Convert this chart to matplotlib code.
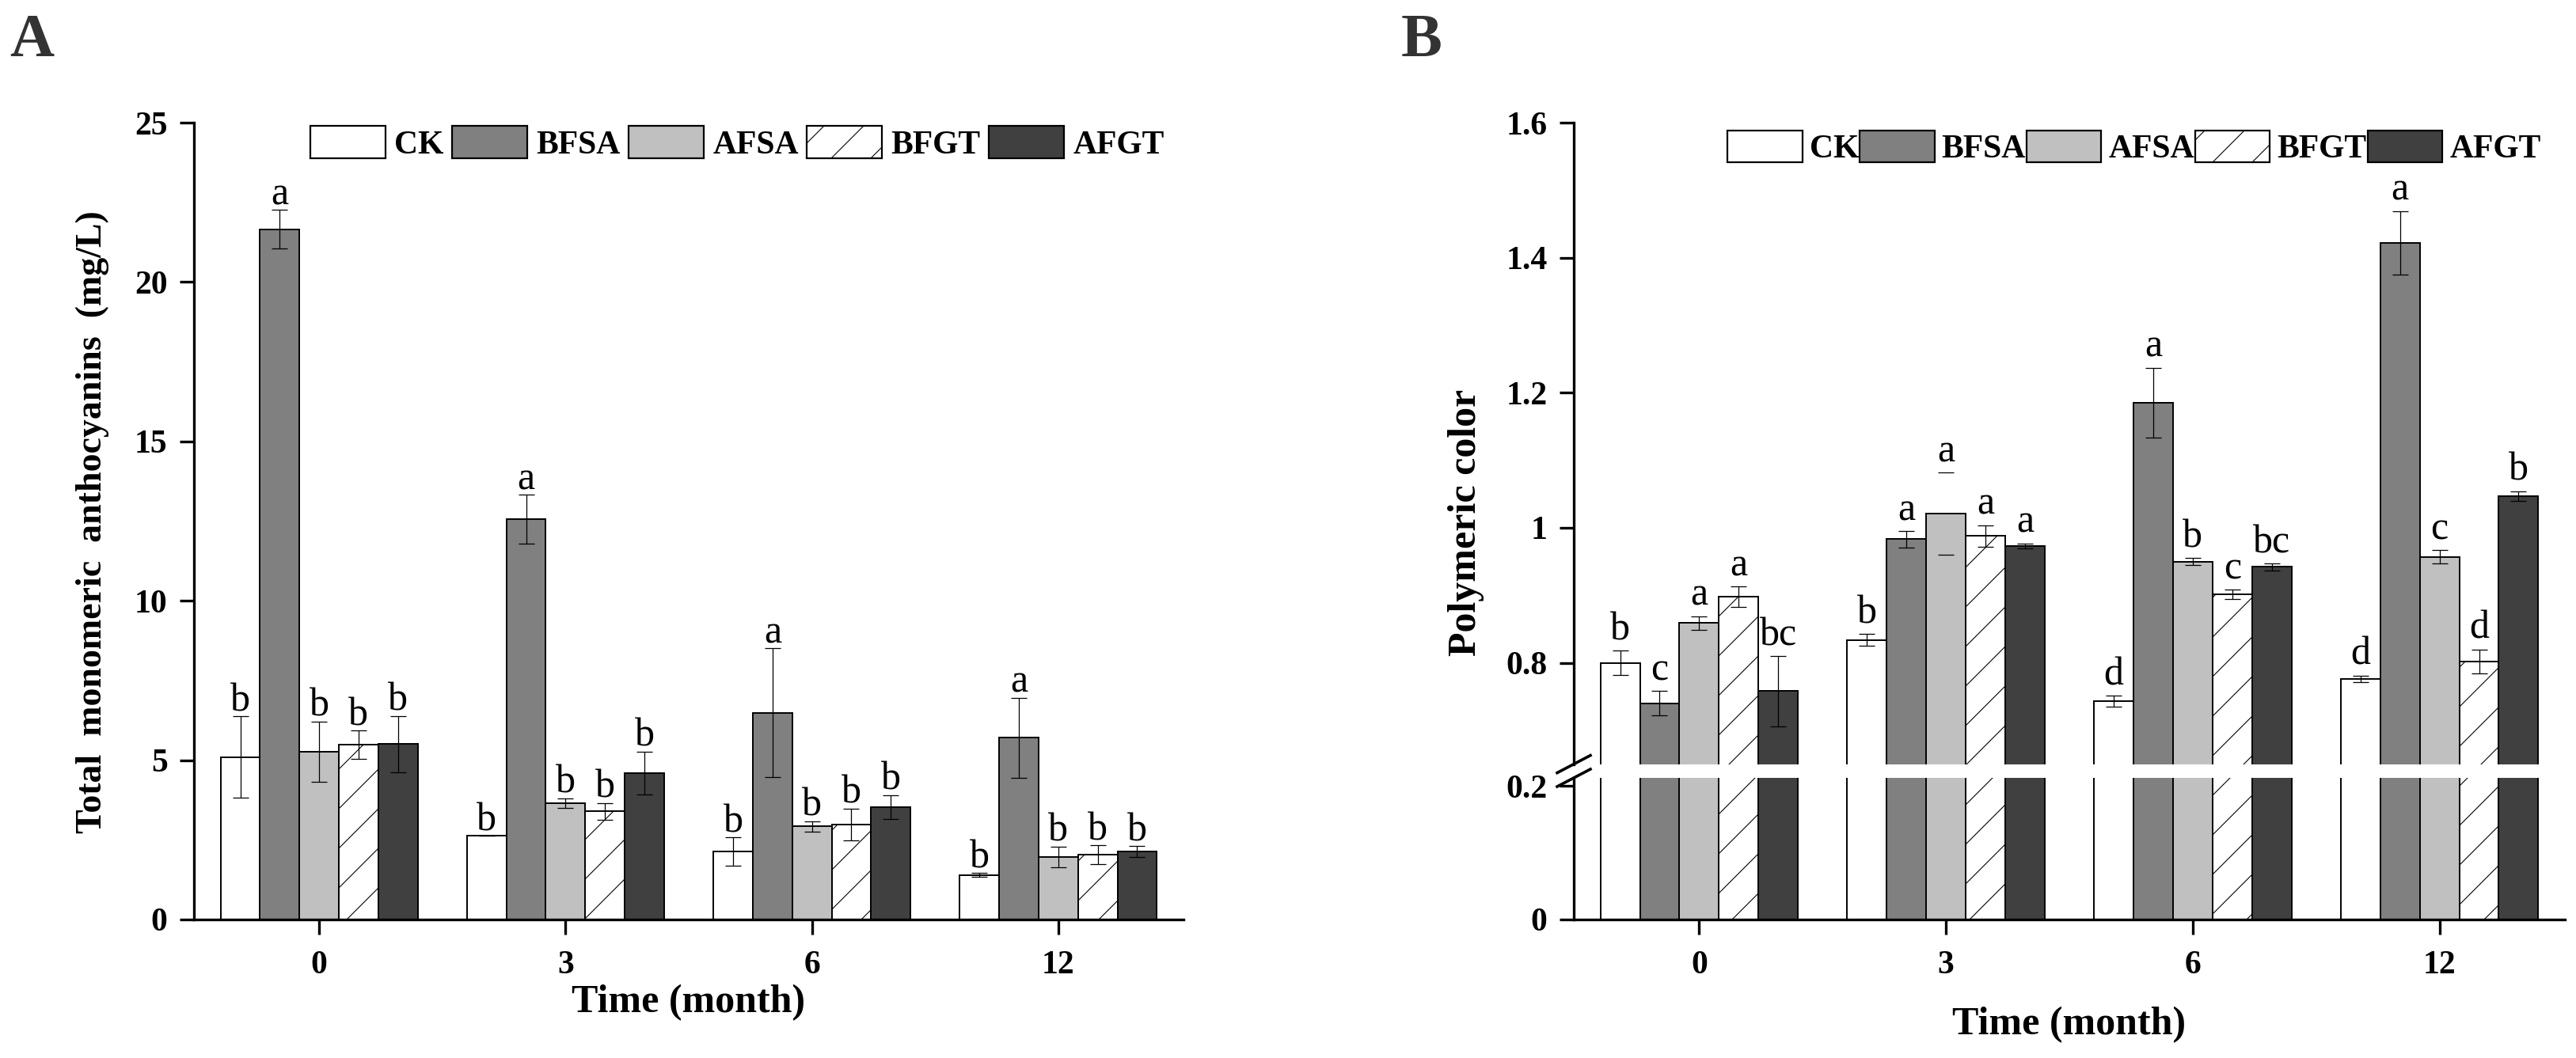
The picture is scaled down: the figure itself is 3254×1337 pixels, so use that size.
import numpy as np
import matplotlib
matplotlib.use('Agg')
import matplotlib.pyplot as plt
from matplotlib.patches import Patch
from matplotlib.backend_bases import GraphicsContextBase

# ---------------- data ----------------
months = ['0', '3', '6', '12']
treatments = ['CK', 'BFSA', 'AFSA', 'BFGT', 'AFGT']

# Panel A: total monomeric anthocyanins (mg/L)
a_ck = [5.10, 2.63, 2.13, 1.40]
a_bfsa = [21.66, 12.56, 6.49, 5.70]
a_afsa = [5.26, 3.65, 2.92, 1.96]
a_bfgt = [5.49, 3.40, 2.98, 2.04]
a_afgt = [5.51, 4.60, 3.53, 2.13]

a_ck_err = [1.27, 0.00, 0.44, 0.06]
a_bfsa_err = [0.60, 0.76, 2.02, 1.26]
a_afsa_err = [0.95, 0.16, 0.16, 0.33]
a_bfgt_err = [0.44, 0.26, 0.50, 0.29]
a_afgt_err = [0.88, 0.67, 0.38, 0.17]

a_ck_let = ['b', 'b', 'b', 'b']
a_bfsa_let = ['a', 'a', 'a', 'a']
a_afsa_let = ['b', 'b', 'b', 'b']
a_bfgt_let = ['b', 'b', 'b', 'b']
a_afgt_let = ['b', 'b', 'b', 'b']

# Panel B: polymeric color
b_ck = [0.800, 0.834, 0.743, 0.776]
b_bfsa = [0.740, 0.983, 1.185, 1.422]
b_afsa = [0.859, 1.021, 0.950, 0.957]
b_bfgt = [0.898, 0.988, 0.901, 0.802]
b_afgt = [0.758, 0.973, 0.942, 1.047]

b_ck_err = [0.018, 0.009, 0.008, 0.005]
b_bfsa_err = [0.018, 0.012, 0.052, 0.047]
b_afsa_err = [0.010, 0.061, 0.005, 0.010]
b_bfgt_err = [0.015, 0.016, 0.007, 0.018]
b_afgt_err = [0.052, 0.004, 0.005, 0.007]

b_ck_let = ['b', 'b', 'd', 'd']
b_bfsa_let = ['c', 'a', 'a', 'a']
b_afsa_let = ['a', 'a', 'b', 'c']
b_bfgt_let = ['a', 'a', 'c', 'd']
b_afgt_let = ['bc', 'a', 'bc', 'b']

a_yticks = [0, 5, 10, 15, 20, 25]
b_upper_ticks = [0.8, 1.0, 1.2, 1.4, 1.6]
b_upper_ticklabels = ['0.8', '1', '1.2', '1.4', '1.6']
b_lower_ticks = [0, 0.2]
b_lower_ticklabels = ['0', '0.2']

# ---------------- style ----------------
colors = ['white', '#808080', '#c0c0c0', 'white', '#404040']
hatches = [None, None, None, '/', None]

plt.rcParams['font.family'] = ['Liberation Serif', 'DejaVu Serif']
plt.rcParams['hatch.linewidth'] = 0.8

# sparser hatch lines
_orig_hatch = GraphicsContextBase.get_hatch_path
def _sparse_hatch(self, density=4.0):
    return _orig_hatch(self, density)
GraphicsContextBase.get_hatch_path = _sparse_hatch

W, H = 3254, 1337
fig = plt.figure(figsize=(W / 100, H / 100), dpi=100)

def fx(px):
    return px / W

def fy(py):
    return 1 - py / H

x = np.arange(len(months))
bw = 0.16
SPW = 2.4
TICKFS = 30

def style_axis(ax):
    for s in ['top', 'right']:
        ax.spines[s].set_visible(False)
    for s in ['left', 'bottom']:
        ax.spines[s].set_linewidth(SPW)
    ax.tick_params(axis='y', direction='out', length=13, width=SPW, pad=11,
                   labelsize=TICKFS)
    ax.tick_params(axis='x', direction='out', length=14, width=SPW, pad=14,
                   labelsize=TICKFS)
    for lab in ax.get_xticklabels() + ax.get_yticklabels():
        lab.set_fontweight('bold')

def draw_bars(ax, series, errs, lets, let_off, with_err=True, with_let=True):
    for i, name in enumerate(treatments):
        xpos = x + (i - 2) * bw
        ax.bar(xpos, series[i], width=bw, color=colors[i], edgecolor='black',
               linewidth=1.4, hatch=hatches[i], zorder=2)
        if with_err:
            eb = ax.errorbar(xpos, series[i], yerr=errs[i], fmt='none',
                             ecolor='black', elinewidth=0.9, capsize=7,
                             capthick=0.9, zorder=3)
            if ax.get_label() == 'B_upper' and name == 'AFSA':
                eb.lines[2][0].set_linewidths([0.9, 0, 0.9, 0.9])
        if with_let:
            for j in range(len(months)):
                ax.annotate(lets[i][j], (xpos[j], series[i][j] + errs[i][j]),
                            xytext=(0, let_off), textcoords='offset points',
                            ha='center', va='baseline', fontsize=36,
                            color='black', zorder=4, annotation_clip=False)

def add_legend(ax, xf, yf, textpad, colspace):
    handles = [Patch(facecolor=colors[i], edgecolor='black', hatch=hatches[i],
                     linewidth=1.6) for i in range(len(treatments))]
    ax.legend(handles, treatments, ncol=5, loc='center left',
              bbox_to_anchor=(xf, yf), bbox_transform=fig.transFigure,
              frameon=False, prop={'weight': 'bold', 'size': 30},
              handlelength=2.27, handleheight=1.12, handletextpad=textpad,
              columnspacing=colspace, borderpad=0, borderaxespad=0)

# ---------------- Panel A ----------------
axA = fig.add_axes([fx(245), fy(1162), fx(1495 - 245), (1162 - 155) / H])
a_series = [a_ck, a_bfsa, a_afsa, a_bfgt, a_afgt]
a_errs = [a_ck_err, a_bfsa_err, a_afsa_err, a_bfgt_err, a_afgt_err]
a_lets = [a_ck_let, a_bfsa_let, a_afsa_let, a_bfgt_let, a_afgt_let]
draw_bars(axA, a_series, a_errs, a_lets, 5)
axA.set_xlim(-0.508, 3.508)
axA.set_ylim(0, 25)
axA.set_yticks(a_yticks)
axA.set_xticks(x)
axA.set_xticklabels(months)
style_axis(axA)
add_legend(axA, fx(392), fy(181), 0.28, 0.25)

fig.text(fx(12), fy(71), 'A', fontsize=56, fontweight='bold', color='#333333',
         ha='left', va='baseline')
fig.text(fx(117), fy(660), 'Total  monomeric  anthocyanins  (mg/L)',
         rotation=90, fontsize=33, fontweight='bold', ha='center', va='center')
fig.text(fx(870), fy(1267), 'Time (month)', fontsize=36, fontweight='bold',
         ha='center', va='center')

# ---------------- Panel B (broken axis) ----------------
b_series = [b_ck, b_bfsa, b_afsa, b_bfgt, b_afgt]
b_errs = [b_ck_err, b_bfsa_err, b_afsa_err, b_bfgt_err, b_afgt_err]
b_lets = [b_ck_let, b_bfsa_let, b_afsa_let, b_bfgt_let, b_afgt_let]

bl_px, br_px = 1988, 3240
up_top, up_bot = 155, 965.6
lo_top, lo_bot = 983, 1162

axBu = fig.add_axes([fx(bl_px), fy(up_bot), fx(br_px - bl_px),
                     (up_bot - up_top) / H], label='B_upper')
axBl = fig.add_axes([fx(bl_px), fy(lo_bot), fx(br_px - bl_px),
                     (lo_bot - lo_top) / H], label='B_lower')

draw_bars(axBu, b_series, b_errs, b_lets, 10)
draw_bars(axBl, b_series, b_errs, b_lets, 10, with_err=False, with_let=False)

for ax in (axBu, axBl):
    ax.set_xlim(-0.508, 3.508)
axBu.set_ylim(0.65, 1.6)
axBl.set_ylim(0, 0.212)
axBu.set_yticks(b_upper_ticks)
axBu.set_yticklabels(b_upper_ticklabels)
axBl.set_yticks(b_lower_ticks)
axBl.set_yticklabels(b_lower_ticklabels)
axBl.set_xticks(x)
axBl.set_xticklabels(months)
axBu.set_xticks([])
style_axis(axBu)
style_axis(axBl)
axBu.spines['bottom'].set_visible(False)
add_legend(axBu, fx(2182), fy(186.5), 0.22, 0.02)

# break marks
wpx = br_px - bl_px
dx = 21 / wpx
for ax, hpx, yb in ((axBu, up_bot - up_top, 0.0), (axBl, lo_bot - lo_top, 1.0)):
    dy = 11 / hpx
    ax.plot([-dx, dx], [yb - dy, yb + dy], transform=ax.transAxes,
            color='black', linewidth=2.6, clip_on=False, zorder=5)

fig.text(fx(1770), fy(71), 'B', fontsize=56, fontweight='bold', color='#333333',
         ha='left', va='baseline')
fig.text(fx(1852), fy(660), 'Polymeric color', rotation=90, fontsize=36,
         fontweight='bold', ha='center', va='center')
fig.text(fx(2614), fy(1295), 'Time (month)', fontsize=36, fontweight='bold',
         ha='center', va='center')

fig.savefig('out.png', dpi=100)
